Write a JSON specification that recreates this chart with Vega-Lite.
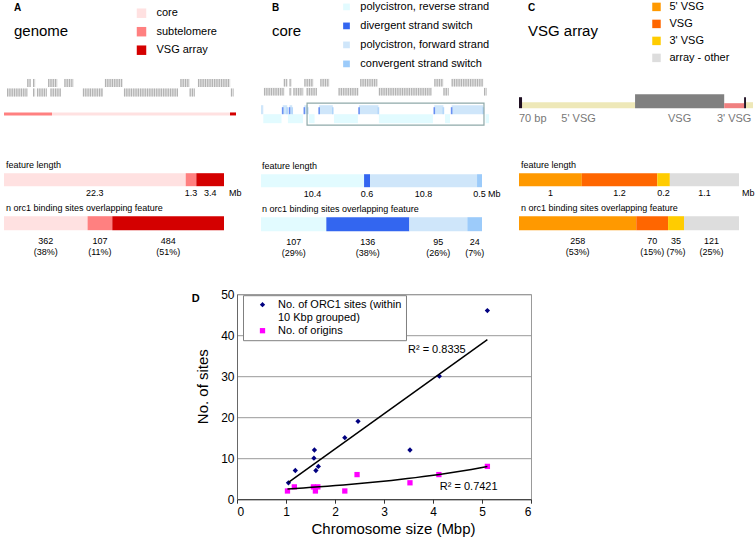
{
  "$schema": "https://vega.github.io/schema/vega-lite/v6.json",
  "padding": {"left": 3, "top": 1.2, "right": 0, "bottom": 0},
  "background": "white",
  "config": {
    "view": {"stroke": null},
    "font": "Liberation Sans",
    "axis": {"labelFont": "Liberation Sans", "titleFont": "Liberation Sans"},
    "legend": {"labelFont": "Liberation Sans"},
    "title": {"font": "Liberation Sans", "subtitleFont": "Liberation Sans"}
  },
  "datasets": {
    "genes": [
      {"strand": "+", "start": 0.100, "end": 0.115},
      {"strand": "+", "start": 0.125, "end": 0.135},
      {"strand": "+", "start": 0.190, "end": 0.230},
      {"strand": "+", "start": 0.260, "end": 0.300},
      {"strand": "+", "start": 0.435, "end": 0.510},
      {"strand": "+", "start": 0.760, "end": 0.800},
      {"strand": "+", "start": 0.836, "end": 0.975},
      {"strand": "-", "start": 0.013, "end": 0.103},
      {"strand": "-", "start": 0.125, "end": 0.135},
      {"strand": "-", "start": 0.142, "end": 0.185},
      {"strand": "-", "start": 0.200, "end": 0.245},
      {"strand": "-", "start": 0.340, "end": 0.427},
      {"strand": "-", "start": 0.517, "end": 0.750},
      {"strand": "-", "start": 0.800, "end": 0.823},
      {"strand": "-", "start": 0.978, "end": 0.990}
    ],
    "regionsA": [
      {"feature": "subtelomere", "start": 0, "end": 0.207},
      {"feature": "core", "start": 0.207, "end": 0.974},
      {"feature": "VSG array", "start": 0.974, "end": 1}
    ],
    "polycistrons": [
      {"feature": "polycistron, forward strand", "start": 0.0, "end": 0.01},
      {"feature": "polycistron, forward strand", "start": 0.095, "end": 0.115},
      {"feature": "polycistron, forward strand", "start": 0.125, "end": 0.137},
      {"feature": "polycistron, forward strand", "start": 0.19, "end": 0.205},
      {"feature": "polycistron, forward strand", "start": 0.255, "end": 0.315},
      {"feature": "polycistron, forward strand", "start": 0.43, "end": 0.515},
      {"feature": "polycistron, forward strand", "start": 0.76, "end": 0.80},
      {"feature": "polycistron, forward strand", "start": 0.836, "end": 0.975},
      {"feature": "polycistron, reverse strand", "start": 0.01, "end": 0.09},
      {"feature": "polycistron, reverse strand", "start": 0.118, "end": 0.184},
      {"feature": "polycistron, reverse strand", "start": 0.21, "end": 0.235},
      {"feature": "polycistron, reverse strand", "start": 0.32, "end": 0.425},
      {"feature": "polycistron, reverse strand", "start": 0.517, "end": 0.754},
      {"feature": "polycistron, reverse strand", "start": 0.807, "end": 0.829},
      {"feature": "polycistron, reverse strand", "start": 0.985, "end": 1.0}
    ],
    "switches": [
      {"feature": "divergent strand switch", "pos": 0.095},
      {"feature": "divergent strand switch", "pos": 0.125},
      {"feature": "divergent strand switch", "pos": 0.19},
      {"feature": "divergent strand switch", "pos": 0.255},
      {"feature": "divergent strand switch", "pos": 0.43},
      {"feature": "divergent strand switch", "pos": 0.76},
      {"feature": "divergent strand switch", "pos": 0.836},
      {"feature": "convergent strand switch", "pos": 0.115},
      {"feature": "convergent strand switch", "pos": 0.137},
      {"feature": "convergent strand switch", "pos": 0.205},
      {"feature": "convergent strand switch", "pos": 0.315},
      {"feature": "convergent strand switch", "pos": 0.515},
      {"feature": "convergent strand switch", "pos": 0.80},
      {"feature": "convergent strand switch", "pos": 0.975}
    ],
    "zoomBox": [{"start": 0.202, "end": 0.978}],
    "arrayUnit": [
      {"element": "70 bp repeats", "start": 0, "end": 0.013, "label": "70 bp"},
      {"element": "5' VSG", "start": 0.013, "end": 0.496, "label": "5' VSG"},
      {"element": "VSG", "start": 0.496, "end": 0.877, "label": "VSG"},
      {"element": "3' VSG", "start": 0.877, "end": 0.962, "label": "3' VSG"},
      {"element": "70 bp repeats", "start": 0.962, "end": 0.970, "label": null},
      {"element": "5' VSG", "start": 0.970, "end": 1.0, "label": null}
    ],
    "bars": [
      {"panel": "A", "measure": "length", "feature": "core", "value": 22.3},
      {"panel": "A", "measure": "length", "feature": "subtelomere", "value": 1.3},
      {"panel": "A", "measure": "length", "feature": "VSG array", "value": 3.4},
      {"panel": "A", "measure": "orc1", "feature": "core", "value": 362, "pct": 38},
      {"panel": "A", "measure": "orc1", "feature": "subtelomere", "value": 107, "pct": 11},
      {"panel": "A", "measure": "orc1", "feature": "VSG array", "value": 484, "pct": 51},
      {"panel": "B", "measure": "length", "feature": "polycistron, reverse strand", "value": 10.4},
      {"panel": "B", "measure": "length", "feature": "divergent strand switch", "value": 0.6},
      {"panel": "B", "measure": "length", "feature": "polycistron, forward strand", "value": 10.8},
      {"panel": "B", "measure": "length", "feature": "convergent strand switch", "value": 0.5},
      {"panel": "B", "measure": "orc1", "feature": "polycistron, reverse strand", "value": 107, "pct": 29},
      {"panel": "B", "measure": "orc1", "feature": "divergent strand switch", "value": 136, "pct": 38},
      {"panel": "B", "measure": "orc1", "feature": "polycistron, forward strand", "value": 95, "pct": 26},
      {"panel": "B", "measure": "orc1", "feature": "convergent strand switch", "value": 24, "pct": 7},
      {"panel": "C", "measure": "length", "feature": "5' VSG", "value": 1},
      {"panel": "C", "measure": "length", "feature": "VSG", "value": 1.2},
      {"panel": "C", "measure": "length", "feature": "3' VSG", "value": 0.2},
      {"panel": "C", "measure": "length", "feature": "array - other", "value": 1.1},
      {"panel": "C", "measure": "orc1", "feature": "5' VSG", "value": 258, "pct": 53},
      {"panel": "C", "measure": "orc1", "feature": "VSG", "value": 70, "pct": 15},
      {"panel": "C", "measure": "orc1", "feature": "3' VSG", "value": 35, "pct": 7},
      {"panel": "C", "measure": "orc1", "feature": "array - other", "value": 121, "pct": 25}
    ],
    "chrom": [
      {"series": "No. of ORC1 sites (within 10 Kbp grouped)", "size": 1.05, "count": 4},
      {"series": "No. of ORC1 sites (within 10 Kbp grouped)", "size": 1.19, "count": 7},
      {"series": "No. of ORC1 sites (within 10 Kbp grouped)", "size": 1.58, "count": 12},
      {"series": "No. of ORC1 sites (within 10 Kbp grouped)", "size": 1.57, "count": 10},
      {"series": "No. of ORC1 sites (within 10 Kbp grouped)", "size": 1.61, "count": 7},
      {"series": "No. of ORC1 sites (within 10 Kbp grouped)", "size": 1.66, "count": 8},
      {"series": "No. of ORC1 sites (within 10 Kbp grouped)", "size": 2.2, "count": 15},
      {"series": "No. of ORC1 sites (within 10 Kbp grouped)", "size": 2.47, "count": 19},
      {"series": "No. of ORC1 sites (within 10 Kbp grouped)", "size": 3.53, "count": 12},
      {"series": "No. of ORC1 sites (within 10 Kbp grouped)", "size": 4.13, "count": 30},
      {"series": "No. of ORC1 sites (within 10 Kbp grouped)", "size": 5.11, "count": 46},
      {"series": "No. of origins", "size": 1.03, "count": 2},
      {"series": "No. of origins", "size": 1.17, "count": 3},
      {"series": "No. of origins", "size": 1.56, "count": 3},
      {"series": "No. of origins", "size": 1.6, "count": 2},
      {"series": "No. of origins", "size": 1.65, "count": 3},
      {"series": "No. of origins", "size": 2.2, "count": 2},
      {"series": "No. of origins", "size": 2.45, "count": 6},
      {"series": "No. of origins", "size": 3.53, "count": 4},
      {"series": "No. of origins", "size": 4.12, "count": 6},
      {"series": "No. of origins", "size": 5.11, "count": 8}
    ],
    "r2": [
      {"label": "R² = 0.8335", "size": 3.49, "count": 36.3},
      {"label": "R² = 0.7421", "size": 4.14, "count": 2.9}
    ]
  },
  "resolve": {"scale": {"color": "independent", "shape": "independent", "x": "independent", "y": "independent"}, "legend": {"color": "independent", "shape": "independent"}},
  "spacing": 29,
  "vconcat": [
    {
      "spacing": 18,
      "resolve": {"scale": {"color": "independent", "x": "independent", "y": "independent"}, "legend": {"color": "independent"}},
      "hconcat": [
        {
          "spacing": 36,
          "resolve": {"scale": {"color": "independent", "x": "independent", "y": "independent"}, "legend": {"color": "independent"}},
          "vconcat": [
            {
              "width": 232, "height": 47,
              "title": {"text": "A", "subtitle": "genome", "anchor": "start", "frame": "group", "fontSize": 10, "fontWeight": "bold", "color": "#000", "subtitleFontSize": 15, "subtitleColor": "#000", "subtitlePadding": 11, "offset": -37.3, "dx": 10},
              "layer": [
                {
                  "data": {"name": "genes"},
                  "mark": {"type": "bar", "height": {"band": 0.85}, "color": "#e6e6e6"},
                  "encoding": {
                    "x": {"field": "start", "type": "quantitative", "axis": null, "scale": {"domain": [0, 1], "nice": false, "zero": false}},
                    "x2": {"field": "end"},
                    "y": {"field": "strand", "type": "nominal", "axis": null, "scale": {"domain": ["+", "-", "spacer", "regions"], "paddingInner": 0, "paddingOuter": 0.4737, "align": 0}}
                  }
                },
                {
                  "data": {"name": "genes"},
                  "mark": {"type": "rule", "strokeWidth": 8, "strokeDash": [1.2, 1.1], "color": "#b2b2b2"},
                  "encoding": {
                    "x": {"field": "start", "type": "quantitative"},
                    "x2": {"field": "end"},
                    "y": {"field": "strand", "type": "nominal"}
                  }
                },
                {
                  "data": {"name": "regionsA"},
                  "mark": {"type": "bar", "height": 3, "yOffset": 2.5},
                  "encoding": {
                    "x": {"field": "start", "type": "quantitative"},
                    "x2": {"field": "end"},
                    "y": {"datum": "regions", "type": "nominal"},
                    "color": {"field": "feature", "type": "nominal", "scale": {"domain": ["core", "subtelomere", "VSG array"], "range": ["#ffe1e1", "#ff8080", "#d40000"]},
                      "legend": {"orient": "none", "legendX": 125.7, "legendY": -76.8, "padding": 6.3, "title": null, "symbolType": "square", "symbolSize": 90, "symbolStrokeWidth": 0, "symbolOpacity": 1, "labelFontSize": 11, "labelColor": "#000", "rowPadding": 6.5, "labelOffset": 9.5}}
                  }
                }
              ]
            },
            {
              "spacing": 6,
              "resolve": {"scale": {"color": "independent", "x": "independent", "y": "independent"}, "legend": {"color": "independent"}},
              "vconcat": [
                {
                  "width": 220, "height": 13,
                  "title": {"text": "feature length", "anchor": "start", "frame": "group", "fontSize": 9, "fontWeight": "normal", "color": "#000", "offset": 3, "dx": 2},
                  "data": {"name": "bars"},
                  "transform": [
                    {"filter": "datum.panel === 'A' && datum.measure === 'length'"},
                    {"stack": "value", "groupby": [], "as": ["x0", "x1"]},
                    {"calculate": "(datum.x0 + datum.x1) / 2", "as": "mid"}
                  ],
                  "layer": [
                    {
                      "mark": {"type": "rect"},
                      "encoding": {
                        "x": {"field": "x0", "type": "quantitative", "axis": null, "scale": {"nice": false, "zero": true}},
                        "x2": {"field": "x1"},
                        "color": {"field": "feature", "type": "nominal", "legend": null, "scale": {"domain": ["core", "subtelomere", "VSG array"], "range": ["#ffe1e1", "#ff8080", "#d40000"]}}
                      }
                    },
                    {
                      "mark": {"type": "text", "y": "height", "baseline": "top", "dy": 3, "fontSize": 9, "color": "#000"},
                      "encoding": {"x": {"field": "mid", "type": "quantitative"}, "text": {"field": "value"}}
                    },
                    {
                      "transform": [{"aggregate": [{"op": "max", "field": "x1", "as": "total"}]}],
                      "mark": {"type": "text", "y": "height", "baseline": "top", "dy": 3, "dx": 5, "align": "left", "fontSize": 9, "color": "#000"},
                      "encoding": {"x": {"field": "total", "type": "quantitative"}, "text": {"value": "Mb"}}
                    }
                  ]
                },
                {
                  "width": 220, "height": 14,
                  "title": {"text": "n orc1 binding sites overlapping feature", "anchor": "start", "frame": "group", "fontSize": 9, "fontWeight": "normal", "color": "#000", "offset": 3, "dx": 2},
                  "data": {"name": "bars"},
                  "transform": [
                    {"filter": "datum.panel === 'A' && datum.measure === 'orc1'"},
                    {"stack": "value", "groupby": [], "as": ["x0", "x1"]},
                    {"calculate": "(datum.x0 + datum.x1) / 2", "as": "mid"},
                    {"calculate": "datum.value + '\\n(' + datum.pct + '%)'", "as": "label"}
                  ],
                  "layer": [
                    {
                      "mark": {"type": "rect"},
                      "encoding": {
                        "x": {"field": "x0", "type": "quantitative", "axis": null, "scale": {"nice": false, "zero": true}},
                        "x2": {"field": "x1"},
                        "color": {"field": "feature", "type": "nominal", "legend": null, "scale": {"domain": ["core", "subtelomere", "VSG array"], "range": ["#ffe1e1", "#ff8080", "#d40000"]}}
                      }
                    },
                    {
                      "mark": {"type": "text", "y": "height", "baseline": "top", "dy": 7, "fontSize": 9, "lineBreak": "\n", "lineHeight": 10.5, "color": "#000"},
                      "encoding": {"x": {"field": "mid", "type": "quantitative"}, "text": {"field": "label"}}
                    }
                  ]
                }
              ]
            }
          ]
        },
        {
          "spacing": 36,
          "resolve": {"scale": {"color": "independent", "x": "independent", "y": "independent"}, "legend": {"color": "independent"}},
          "vconcat": [
            {
              "width": 228, "height": 47,
              "title": {"text": "B", "subtitle": "core", "anchor": "start", "frame": "group", "fontSize": 10, "fontWeight": "bold", "color": "#000", "subtitleFontSize": 15, "subtitleColor": "#000", "subtitlePadding": 11, "offset": -37.3, "dx": 11},
              "layer": [
                {
                  "data": {"name": "genes"},
                  "mark": {"type": "bar", "height": {"band": 0.85}, "color": "#e6e6e6"},
                  "encoding": {
                    "x": {"field": "start", "type": "quantitative", "axis": null, "scale": {"domain": [0, 1], "nice": false, "zero": false}},
                    "x2": {"field": "end"},
                    "y": {"field": "strand", "type": "nominal", "axis": null, "scale": {"domain": ["+", "-", "spacer", "polycistron, forward strand", "polycistron, reverse strand"], "paddingInner": 0, "paddingOuter": 0.111, "align": 0}}
                  }
                },
                {
                  "data": {"name": "genes"},
                  "mark": {"type": "rule", "strokeWidth": 7.6, "strokeDash": [1.2, 1.1], "color": "#b2b2b2"},
                  "encoding": {
                    "x": {"field": "start", "type": "quantitative"},
                    "x2": {"field": "end"},
                    "y": {"field": "strand", "type": "nominal"}
                  }
                },
                {
                  "data": {"name": "polycistrons"},
                  "mark": {"type": "bar", "height": {"band": 1}},
                  "encoding": {
                    "x": {"field": "start", "type": "quantitative"},
                    "x2": {"field": "end"},
                    "y": {"field": "feature", "type": "nominal"},
                    "color": {"field": "feature", "type": "nominal", "scale": {"domain": ["polycistron, reverse strand", "divergent strand switch", "polycistron, forward strand", "convergent strand switch"], "range": ["#e2fbff", "#3366f0", "#cfe6fa", "#9ccbfa"]},
                      "legend": {"orient": "none", "legendX": 80, "legendY": -76.8, "padding": 0, "title": null, "symbolType": "square", "symbolSize": 45, "symbolStrokeWidth": 0, "symbolOpacity": 1, "labelFontSize": 11, "labelColor": "#000", "rowPadding": 7, "labelOffset": 8.3}}
                  }
                },
                {
                  "data": {"name": "switches"},
                  "mark": {"type": "tick", "thickness": 1.6, "size": 7, "yOffset": 1},
                  "encoding": {
                    "x": {"field": "pos", "type": "quantitative"},
                    "y": {"datum": "polycistron, forward strand", "type": "nominal"},
                    "color": {"field": "feature", "type": "nominal", "scale": {"domain": ["polycistron, reverse strand", "divergent strand switch", "polycistron, forward strand", "convergent strand switch"], "range": ["#e2fbff", "#3366f0", "#cfe6fa", "#9ccbfa"]},
                      "legend": {"orient": "none", "legendX": 80, "legendY": -76.8, "padding": 0, "title": null, "symbolType": "square", "symbolSize": 45, "symbolStrokeWidth": 0, "symbolOpacity": 1, "labelFontSize": 11, "labelColor": "#000", "rowPadding": 7, "labelOffset": 8.3}}
                  }
                },
                {
                  "data": {"name": "zoomBox"},
                  "mark": {"type": "bar", "height": 22, "yOffset": 4.5, "fill": "transparent", "stroke": "#8fa9a9", "strokeWidth": 1.2},
                  "encoding": {
                    "x": {"field": "start", "type": "quantitative"},
                    "x2": {"field": "end"},
                    "y": {"datum": "polycistron, forward strand", "type": "nominal"}
                  }
                }
              ]
            },
            {
              "spacing": 6,
              "resolve": {"scale": {"color": "independent", "x": "independent", "y": "independent"}, "legend": {"color": "independent"}},
              "vconcat": [
                {
                  "width": 221, "height": 13,
                  "title": {"text": "feature length", "anchor": "start", "frame": "group", "fontSize": 9, "fontWeight": "normal", "color": "#000", "offset": 3, "dx": 1},
                  "data": {"name": "bars"},
                  "transform": [
                    {"filter": "datum.panel === 'B' && datum.measure === 'length'"},
                    {"stack": "value", "groupby": [], "as": ["x0", "x1"]},
                    {"calculate": "(datum.x0 + datum.x1) / 2", "as": "mid"}
                  ],
                  "layer": [
                    {
                      "mark": {"type": "rect"},
                      "encoding": {
                        "x": {"field": "x0", "type": "quantitative", "axis": null, "scale": {"nice": false, "zero": true}},
                        "x2": {"field": "x1"},
                        "color": {"field": "feature", "type": "nominal", "legend": null, "scale": {"domain": ["polycistron, reverse strand", "divergent strand switch", "polycistron, forward strand", "convergent strand switch"], "range": ["#e2fbff", "#3366f0", "#cfe6fa", "#9ccbfa"]}}
                      }
                    },
                    {
                      "mark": {"type": "text", "y": "height", "baseline": "top", "dy": 3, "fontSize": 9, "color": "#000"},
                      "encoding": {"x": {"field": "mid", "type": "quantitative"}, "text": {"field": "value"}}
                    },
                    {
                      "transform": [{"aggregate": [{"op": "max", "field": "x1", "as": "total"}]}],
                      "mark": {"type": "text", "y": "height", "baseline": "top", "dy": 3, "dx": 6, "align": "left", "fontSize": 9, "color": "#000"},
                      "encoding": {"x": {"field": "total", "type": "quantitative"}, "text": {"value": "Mb"}}
                    }
                  ]
                },
                {
                  "width": 221, "height": 14,
                  "title": {"text": "n orc1 binding sites overlapping feature", "anchor": "start", "frame": "group", "fontSize": 9, "fontWeight": "normal", "color": "#000", "offset": 3, "dx": 1},
                  "data": {"name": "bars"},
                  "transform": [
                    {"filter": "datum.panel === 'B' && datum.measure === 'orc1'"},
                    {"stack": "value", "groupby": [], "as": ["x0", "x1"]},
                    {"calculate": "(datum.x0 + datum.x1) / 2", "as": "mid"},
                    {"calculate": "datum.value + '\\n(' + datum.pct + '%)'", "as": "label"}
                  ],
                  "layer": [
                    {
                      "mark": {"type": "rect"},
                      "encoding": {
                        "x": {"field": "x0", "type": "quantitative", "axis": null, "scale": {"nice": false, "zero": true}},
                        "x2": {"field": "x1"},
                        "color": {"field": "feature", "type": "nominal", "legend": null, "scale": {"domain": ["polycistron, reverse strand", "divergent strand switch", "polycistron, forward strand", "convergent strand switch"], "range": ["#e2fbff", "#3366f0", "#cfe6fa", "#9ccbfa"]}}
                      }
                    },
                    {
                      "mark": {"type": "text", "y": "height", "baseline": "top", "dy": 7, "fontSize": 9, "lineBreak": "\n", "lineHeight": 10.5, "color": "#000"},
                      "encoding": {"x": {"field": "mid", "type": "quantitative"}, "text": {"field": "label"}}
                    }
                  ]
                }
              ]
            }
          ]
        },
        {
          "spacing": 36,
          "resolve": {"scale": {"color": "independent", "x": "independent", "y": "independent"}, "legend": {"color": "independent"}},
          "vconcat": [
            {
              "width": 234, "height": 47,
              "title": {"text": "C", "subtitle": "VSG array", "anchor": "start", "frame": "group", "fontSize": 10, "fontWeight": "bold", "color": "#000", "subtitleFontSize": 15, "subtitleColor": "#000", "subtitlePadding": 11, "offset": -37.3, "dx": 9},
              "layer": [
                {
                  "data": {"name": "bars"},
                  "transform": [{"filter": "datum.panel === 'C' && datum.measure === 'length'"}],
                  "mark": {"type": "rect", "opacity": 0},
                  "encoding": {
                    "color": {"field": "feature", "type": "nominal", "scale": {"domain": ["5' VSG", "VSG", "3' VSG", "array - other"], "range": ["#ff9900", "#ff6600", "#ffcc00", "#dddddd"]},
                      "legend": {"orient": "none", "legendX": 132, "legendY": -76.8, "padding": 0, "title": null, "symbolType": "square", "symbolSize": 72, "symbolStrokeWidth": 0, "symbolOpacity": 1, "labelFontSize": 11, "labelColor": "#000", "rowPadding": 5, "labelOffset": 7.5}}
                  }
                },
                {
                  "data": {"name": "arrayUnit"},
                  "transform": [{"filter": "datum.element === '5\\' VSG'"}],
                  "mark": {"type": "bar", "height": 6, "yOffset": 12, "color": "#eee8b8"},
                  "encoding": {
                    "x": {"field": "start", "type": "quantitative", "axis": null, "scale": {"domain": [0, 1], "nice": false, "zero": false}},
                    "x2": {"field": "end"},
                    "y": {"datum": "array", "type": "nominal", "axis": null, "scale": {"domain": ["array"], "paddingInner": 0, "paddingOuter": 0.2833, "align": 0}}
                  }
                },
                {
                  "data": {"name": "arrayUnit"},
                  "transform": [{"filter": "datum.element === 'VSG'"}],
                  "mark": {"type": "bar", "height": 14, "yOffset": 8, "color": "#808080"},
                  "encoding": {"x": {"field": "start", "type": "quantitative"}, "x2": {"field": "end"}, "y": {"datum": "array", "type": "nominal"}}
                },
                {
                  "data": {"name": "arrayUnit"},
                  "transform": [{"filter": "datum.element === '3\\' VSG'"}],
                  "mark": {"type": "bar", "height": 5, "yOffset": 12.5, "color": "#f08080"},
                  "encoding": {"x": {"field": "start", "type": "quantitative"}, "x2": {"field": "end"}, "y": {"datum": "array", "type": "nominal"}}
                },
                {
                  "data": {"name": "arrayUnit"},
                  "transform": [{"filter": "datum.element === '70 bp repeats'"}],
                  "mark": {"type": "bar", "height": 11, "yOffset": 9.5, "color": "#1f0f22"},
                  "encoding": {"x": {"field": "start", "type": "quantitative"}, "x2": {"field": "end"}, "y": {"datum": "array", "type": "nominal"}}
                },
                {
                  "data": {"name": "arrayUnit"},
                  "transform": [{"filter": "datum.label !== null && datum.element === '70 bp repeats'"}],
                  "mark": {"type": "text", "align": "left", "baseline": "top", "dy": 20, "fontSize": 11, "color": "#777777"},
                  "encoding": {"x": {"field": "start", "type": "quantitative"}, "y": {"datum": "array", "type": "nominal"}, "text": {"field": "label"}}
                },
                {
                  "data": {"name": "arrayUnit"},
                  "transform": [{"filter": "datum.label !== null && datum.element !== '70 bp repeats'"}, {"calculate": "(datum.start + datum.end) / 2", "as": "mid"}],
                  "mark": {"type": "text", "align": "center", "baseline": "top", "dy": 20, "fontSize": 11, "color": "#777777"},
                  "encoding": {"x": {"field": "mid", "type": "quantitative"}, "y": {"datum": "array", "type": "nominal"}, "text": {"field": "label"}}
                }
              ]
            },
            {
              "spacing": 6,
              "resolve": {"scale": {"color": "independent", "x": "independent", "y": "independent"}, "legend": {"color": "independent"}},
              "vconcat": [
                {
                  "width": 220, "height": 13,
                  "title": {"text": "feature length", "anchor": "start", "frame": "group", "fontSize": 9, "fontWeight": "normal", "color": "#000", "offset": 3, "dx": 2},
                  "data": {"name": "bars"},
                  "transform": [
                    {"filter": "datum.panel === 'C' && datum.measure === 'length'"},
                    {"stack": "value", "groupby": [], "as": ["x0", "x1"]},
                    {"calculate": "(datum.x0 + datum.x1) / 2", "as": "mid"}
                  ],
                  "layer": [
                    {
                      "mark": {"type": "rect"},
                      "encoding": {
                        "x": {"field": "x0", "type": "quantitative", "axis": null, "scale": {"nice": false, "zero": true}},
                        "x2": {"field": "x1"},
                        "color": {"field": "feature", "type": "nominal", "legend": null, "scale": {"domain": ["5' VSG", "VSG", "3' VSG", "array - other"], "range": ["#ff9900", "#ff6600", "#ffcc00", "#dddddd"]}}
                      }
                    },
                    {
                      "mark": {"type": "text", "y": "height", "baseline": "top", "dy": 3, "fontSize": 9, "color": "#000"},
                      "encoding": {"x": {"field": "mid", "type": "quantitative"}, "text": {"field": "value"}}
                    },
                    {
                      "transform": [{"aggregate": [{"op": "max", "field": "x1", "as": "total"}]}],
                      "mark": {"type": "text", "y": "height", "baseline": "top", "dy": 3, "dx": 3, "align": "left", "fontSize": 9, "color": "#000"},
                      "encoding": {"x": {"field": "total", "type": "quantitative"}, "text": {"value": "Mb"}}
                    }
                  ]
                },
                {
                  "width": 220, "height": 14,
                  "title": {"text": "n orc1 binding sites overlapping feature", "anchor": "start", "frame": "group", "fontSize": 9, "fontWeight": "normal", "color": "#000", "offset": 3, "dx": 2},
                  "data": {"name": "bars"},
                  "transform": [
                    {"filter": "datum.panel === 'C' && datum.measure === 'orc1'"},
                    {"stack": "value", "groupby": [], "as": ["x0", "x1"]},
                    {"calculate": "(datum.x0 + datum.x1) / 2", "as": "mid"},
                    {"calculate": "datum.value + '\\n(' + datum.pct + '%)'", "as": "label"}
                  ],
                  "layer": [
                    {
                      "mark": {"type": "rect"},
                      "encoding": {
                        "x": {"field": "x0", "type": "quantitative", "axis": null, "scale": {"nice": false, "zero": true}},
                        "x2": {"field": "x1"},
                        "color": {"field": "feature", "type": "nominal", "legend": null, "scale": {"domain": ["5' VSG", "VSG", "3' VSG", "array - other"], "range": ["#ff9900", "#ff6600", "#ffcc00", "#dddddd"]}}
                      }
                    },
                    {
                      "mark": {"type": "text", "y": "height", "baseline": "top", "dy": 7, "fontSize": 9, "lineBreak": "\n", "lineHeight": 10.5, "color": "#000"},
                      "encoding": {"x": {"field": "mid", "type": "quantitative"}, "text": {"field": "label"}}
                    }
                  ]
                }
              ]
            }
          ]
        }
      ]
    },
    {
      "spacing": 0,
      "resolve": {"scale": {"color": "independent", "shape": "independent", "x": "independent", "y": "independent"}, "legend": {"color": "independent", "shape": "independent"}},
      "hconcat": [
        {
          "width": 187, "height": 1,
          "data": {"values": []},
          "mark": {"type": "rect"},
          "encoding": {}
        },
        {
          "width": 294, "height": 205,
          "view": {"stroke": "#999999"},
          "title": {"text": "D", "anchor": "start", "frame": "bounds", "fontSize": 11, "fontWeight": "bold", "color": "#000", "offset": -16, "dx": -4},
          "data": {"name": "chrom"},
          "layer": [
            {
              "mark": {"type": "point", "filled": true, "size": 28, "opacity": 1},
              "encoding": {
                "x": {"field": "size", "type": "quantitative", "scale": {"domain": [0, 6], "nice": false, "zero": true},
                  "axis": {"values": [0, 1, 2, 3, 4, 5, 6], "title": "Chromosome size (Mbp)", "titleFontSize": 15, "titleFontWeight": "normal", "titleColor": "#000", "labelFontSize": 12, "labelColor": "#000", "domainColor": "#333", "tickColor": "#333", "tickSize": 4, "labelPadding": 3, "titlePadding": 4, "titleX": 156, "grid": false}},
                "y": {"field": "count", "type": "quantitative", "scale": {"domain": [0, 50], "nice": false, "zero": true},
                  "axis": {"values": [0, 5, 10, 15, 20, 25, 30, 35, 40, 45, 50], "title": "No. of sites", "titleFontSize": 15, "titleFontWeight": "normal", "titleColor": "#000", "labelFontSize": 12, "labelColor": "#000", "domainColor": "#666", "ticks": false, "labelPadding": 3, "titlePadding": 10, "titleY": 92, "grid": true, "gridColor": "#999999"}},
                "color": {"field": "series", "type": "nominal", "scale": {"domain": ["No. of ORC1 sites (within 10 Kbp grouped)", "No. of origins"], "range": ["#000080", "#ff00ff"]},
                  "legend": {"orient": "none", "legendX": 6, "legendY": 1, "title": null, "padding": 4, "symbolOffset": 10, "labelOffset": 10, "symbolSize": 28, "rowPadding": 1, "labelFontSize": 11, "labelColor": "#000", "labelLimit": 300, "strokeColor": "#808080", "fillColor": "#ffffff",
                    "labelExpr": "datum.label === 'No. of ORC1 sites (within 10 Kbp grouped)' ? ['No. of ORC1 sites (within', '10 Kbp grouped)'] : datum.label"}},
                "shape": {"field": "series", "type": "nominal", "scale": {"domain": ["No. of ORC1 sites (within 10 Kbp grouped)", "No. of origins"], "range": ["diamond", "square"]},
                  "legend": {"orient": "none", "legendX": 6, "legendY": 1, "title": null, "padding": 4, "symbolOffset": 10, "labelOffset": 10, "symbolSize": 28, "rowPadding": 1, "labelFontSize": 11, "labelColor": "#000", "labelLimit": 300, "strokeColor": "#808080", "fillColor": "#ffffff",
                    "labelExpr": "datum.label === 'No. of ORC1 sites (within 10 Kbp grouped)' ? ['No. of ORC1 sites (within', '10 Kbp grouped)'] : datum.label"}}
              }
            },
            {
              "transform": [{"filter": "datum.series === 'No. of ORC1 sites (within 10 Kbp grouped)'"}, {"regression": "count", "on": "size", "method": "linear"}],
              "mark": {"type": "line", "color": "#000", "strokeWidth": 1.5},
              "encoding": {"x": {"field": "size", "type": "quantitative"}, "y": {"field": "count", "type": "quantitative"}}
            },
            {
              "transform": [{"filter": "datum.series === 'No. of origins'"}, {"regression": "count", "on": "size", "method": "exp"}],
              "mark": {"type": "line", "color": "#000", "strokeWidth": 1.5},
              "encoding": {"x": {"field": "size", "type": "quantitative"}, "y": {"field": "count", "type": "quantitative"}}
            },
            {
              "data": {"name": "r2"},
              "mark": {"type": "text", "align": "left", "baseline": "middle", "fontSize": 11, "color": "#000"},
              "encoding": {"x": {"field": "size", "type": "quantitative"}, "y": {"field": "count", "type": "quantitative"}, "text": {"field": "label"}}
            }
          ]
        }
      ]
    }
  ]
}
